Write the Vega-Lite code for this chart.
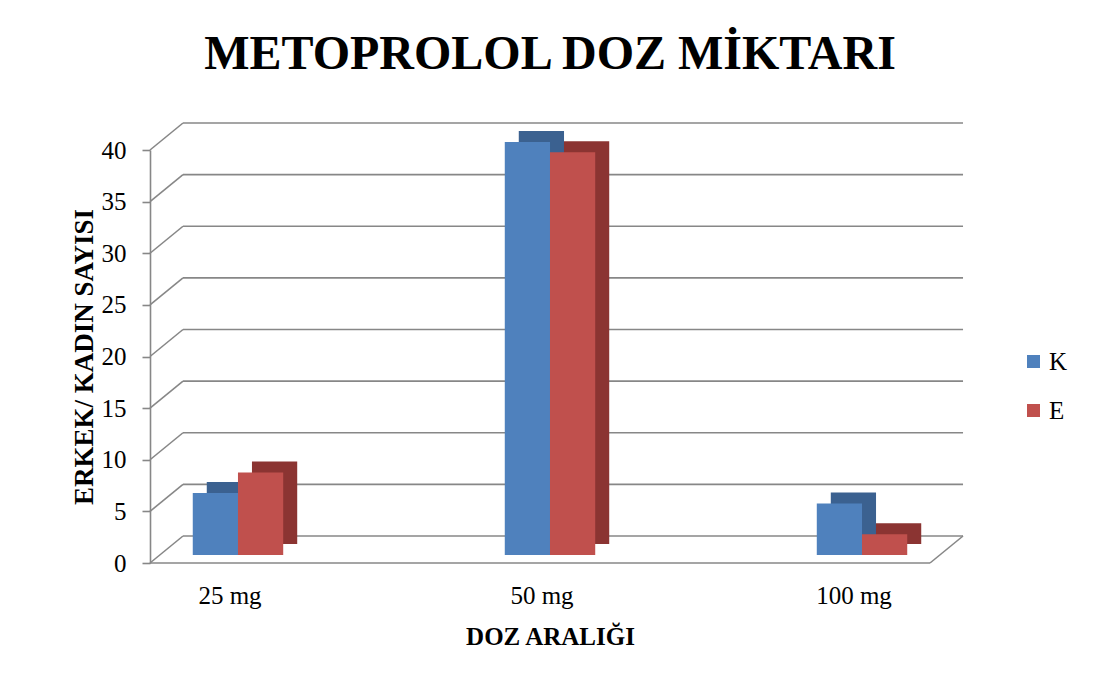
{
  "$schema": "https://vega.github.io/schema/vega-lite/v6.json",
  "width": 800,
  "height": 413,
  "autosize": "none",
  "padding": {"left": 150, "top": 150, "right": 145, "bottom": 121},
  "background": "white",
  "config": {"view": {"stroke": null}},
  "title": {
    "text": "METOPROLOL DOZ MİKTARI",
    "font": "Liberation Serif",
    "fontSize": 48,
    "fontWeight": "bold",
    "color": "#000000",
    "anchor": "middle",
    "offset": 43
  },
  "datasets": {
    "bars": [
      {"doz": "25 mg", "cins": "K", "n": 6},
      {"doz": "25 mg", "cins": "E", "n": 8},
      {"doz": "50 mg", "cins": "K", "n": 40},
      {"doz": "50 mg", "cins": "E", "n": 39},
      {"doz": "100 mg", "cins": "K", "n": 5},
      {"doz": "100 mg", "cins": "E", "n": 2}
    ],
    "grid": [{"v": 0}, {"v": 5}, {"v": 10}, {"v": 15}, {"v": 20}, {"v": 25}, {"v": 30}, {"v": 35}, {"v": 40}]
  },
  "resolve": {"scale": {"x": "independent"}, "axis": {"x": "independent"}},
  "layer": [
    {
      "data": {"name": "grid"},
      "mark": {"type": "rule", "color": "#878787", "strokeWidth": 1.6, "xOffset": 33, "x2Offset": 33, "yOffset": -27, "y2Offset": -27},
      "encoding": {
        "x": {"datum": 0, "type": "quantitative", "scale": {"domain": [0, 1.0256]}, "axis": null},
        "x2": {"datum": 1},
        "y": {
          "field": "v", "type": "quantitative", "scale": {"domain": [0, 40]},
          "axis": {
            "values": [0, 5, 10, 15, 20, 25, 30, 35, 40], "grid": false,
            "domainColor": "#878787", "domainWidth": 1.6, "tickColor": "#878787", "tickWidth": 1.6, "tickSize": 8,
            "labelFont": "Liberation Serif", "labelFontSize": 25, "labelColor": "#000000", "labelPadding": 16,
            "title": "ERKEK/ KADIN SAYISI", "titleFont": "Liberation Serif", "titleFontSize": 27, "titleFontWeight": "bold", "titleColor": "#000000", "titlePadding": 3
          }
        }
      }
    },
    {
      "data": {"name": "grid"},
      "mark": {"type": "rule", "color": "#878787", "strokeWidth": 1.6, "x2Offset": 33, "y2Offset": -27},
      "encoding": {
        "x": {"datum": 0, "type": "quantitative", "scale": {"domain": [0, 1.0256]}, "axis": null},
        "x2": {"datum": 0},
        "y": {"field": "v", "type": "quantitative"},
        "y2": {"field": "v"}
      }
    },
    {
      "data": {"name": "grid"},
      "transform": [{"filter": "datum.v === 0"}],
      "mark": {"type": "rule", "color": "#878787", "strokeWidth": 1.6, "x2Offset": 33, "y2Offset": -27},
      "encoding": {
        "x": {"datum": 1, "type": "quantitative", "scale": {"domain": [0, 1.0256]}, "axis": null},
        "x2": {"datum": 1},
        "y": {"field": "v", "type": "quantitative"},
        "y2": {"field": "v"}
      }
    },
    {
      "data": {"name": "grid"},
      "transform": [{"filter": "datum.v === 0"}],
      "mark": {"type": "rule", "color": "#878787", "strokeWidth": 1.6},
      "encoding": {
        "x": {"datum": 0, "type": "quantitative", "scale": {"domain": [0, 1.0256]}, "axis": null},
        "x2": {"datum": 1},
        "y": {"field": "v", "type": "quantitative"}
      }
    },
    {
      "data": {"name": "bars"},
      "transform": [{"filter": "datum.cins === 'K'"}],
      "mark": {"type": "bar", "width": {"band": 0.5}, "color": "#3B6190", "xOffset": -8.6, "x2Offset": -8.6, "yOffset": -19, "y2Offset": -19},
      "encoding": {
        "x": {"field": "doz", "type": "nominal", "sort": ["25 mg", "50 mg", "100 mg"], "scale": {"paddingInner": 0.71, "paddingOuter": 0.137}, "axis": null},
        "y": {"field": "n", "type": "quantitative"}
      }
    },
    {
      "data": {"name": "bars"},
      "transform": [{"filter": "datum.cins === 'E'"}],
      "mark": {"type": "bar", "width": {"band": 0.5}, "color": "#8B3432", "xOffset": 36.6, "x2Offset": 36.6, "yOffset": -19, "y2Offset": -19},
      "encoding": {
        "x": {"field": "doz", "type": "nominal", "sort": ["25 mg", "50 mg", "100 mg"], "scale": {"paddingInner": 0.71, "paddingOuter": 0.137}, "axis": null},
        "y": {"field": "n", "type": "quantitative"}
      }
    },
    {
      "data": {"name": "bars"},
      "transform": [{"filter": "datum.cins === 'K'"}],
      "mark": {"type": "bar", "width": {"band": 0.5}, "xOffset": -22.6, "x2Offset": -22.6, "yOffset": -8, "y2Offset": -8},
      "encoding": {
        "x": {
          "field": "doz", "type": "nominal", "sort": ["25 mg", "50 mg", "100 mg"],
          "scale": {"paddingInner": 0.71, "paddingOuter": 0.137},
          "axis": {
            "ticks": false, "domain": false, "labelAngle": 0, "labelOffset": -8,
            "labelFont": "Liberation Serif", "labelFontSize": 25, "labelColor": "#000000", "labelPadding": 20,
            "title": "DOZ ARALIĞI", "titleFont": "Liberation Serif", "titleFontSize": 25, "titleFontWeight": "bold", "titleColor": "#000000", "titlePadding": 16
          }
        },
        "y": {"field": "n", "type": "quantitative"},
        "color": {
          "field": "cins", "type": "nominal",
          "scale": {"domain": ["K", "E"], "range": ["#4F81BD", "#C0504D"]},
          "legend": {
            "title": null, "orient": "none", "legendX": 871, "legendY": 199,
            "symbolType": "square", "symbolSize": 169, "symbolStrokeWidth": 0,
            "labelFont": "Liberation Serif", "labelFontSize": 25, "labelColor": "#000000", "labelOffset": 3,
            "rowPadding": 23
          }
        }
      }
    },
    {
      "data": {"name": "bars"},
      "transform": [{"filter": "datum.cins === 'E'"}],
      "mark": {"type": "bar", "width": {"band": 0.5}, "xOffset": 22.6, "x2Offset": 22.6, "yOffset": -8, "y2Offset": -8},
      "encoding": {
        "x": {"field": "doz", "type": "nominal", "sort": ["25 mg", "50 mg", "100 mg"], "scale": {"paddingInner": 0.71, "paddingOuter": 0.137}, "axis": null},
        "y": {"field": "n", "type": "quantitative"},
        "color": {"field": "cins", "type": "nominal", "scale": {"domain": ["K", "E"], "range": ["#4F81BD", "#C0504D"]}}
      }
    }
  ]
}
